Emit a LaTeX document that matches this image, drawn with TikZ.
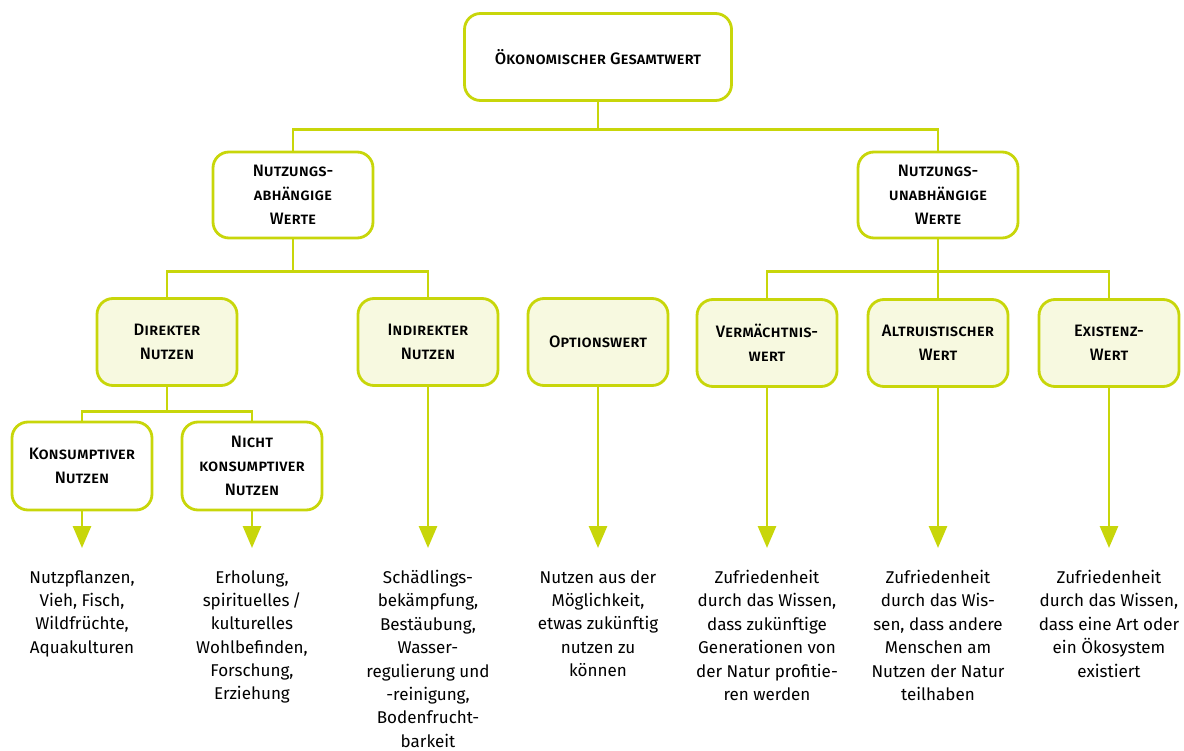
\documentclass[tikz,border=0pt]{standalone}
\usepackage{fontspec}
\setmainfont{Fira Sans}[BoldFont={Fira Sans Medium}]
\usetikzlibrary{arrows.meta}
\definecolor{wertgruen}{RGB}{200,214,10}
\definecolor{wertfill}{RGB}{247,249,224}

\tikzset{
  wert/.style={draw=wertgruen, line width=1.6pt, rounded corners=0.32cm, align=center,
    font=\bfseries\scshape\fontsize{9.4}{13.6}\selectfont},
  topwert/.style={wert, fill=white, minimum width=5.34cm, minimum height=1.74cm},
  gruppe/.style={wert, fill=white, minimum width=3.2cm, minimum height=1.72cm},
  art/.style={wert, fill=wertfill, minimum width=2.8cm, minimum height=1.74cm},
  unterart/.style={wert, fill=white, minimum width=2.8cm, minimum height=1.76cm},
  beispiel/.style={align=center, anchor=north, font=\fontsize{9.7}{13.3}\selectfont},
  pfeil/.style={draw=wertgruen, line width=1.6pt, shorten >=0.30cm,
    -{Triangle[length=0.44cm,width=0.36cm]}}
}

\begin{document}
\begin{tikzpicture}[line width=1.6pt]
\useasboundingbox (0,0) rectangle (23.68,-15.02);

   \node[topwert] (gesamt) at (11.96,-1.14) {Ökonomischer Gesamtwert};
   \node[gruppe] (nutzab) at (5.86,-3.90) {Nutzungs-\\abhängige\\Werte};
   \node[gruppe] (nutzunab) at (18.76,-3.90) {Nutzungs-\\unabhängige\\Werte};

   \node[art] (direkt) at (3.34,-6.84) {Direkter\\Nutzen};
   \node[art] (indirekt) at (8.56,-6.84) {Indirekter\\Nutzen};
   \node[art] (option) at (11.96,-6.84) {Optionswert};
   \node[art] (vermacht) at (15.34,-6.86) {Vermächtnis-\\wert};
   \node[art] (altru) at (18.76,-6.86) {Altruistischer\\Wert};
   \node[art] (existenz) at (22.18,-6.86) {Existenz-\\Wert};

   \node[unterart] (konsum) at (1.64,-9.32) {Konsumptiver\\Nutzen};
   \node[unterart] (nichtkonsum) at (5.04,-9.32) {Nicht\\konsumptiver\\Nutzen};

   \begin{scope}[every node/.style={beispiel}]
    \node (konsumT) at (1.64,-11.26) {Nutzpflanzen,\\Vieh, Fisch,\\Wildfrüchte,\\Aquakulturen};
    \node (nichtkonsumT) at (5.04,-11.26) {Erholung,\\spirituelles\,/\\kulturelles\\Wohlbefinden,\\Forschung,\\Erziehung};
    \node (indirektT) at (8.56,-11.26) {Schädlings-\\bekämpfung,\\Bestäubung,\\Wasser-\\regulierung und\\-reinigung,\\Bodenfrucht-\\barkeit};
    \node (optionT) at (11.96,-11.26) {Nutzen aus der\\Möglichkeit,\\etwas zukünftig\\nutzen zu\\können};
    \node (vermachtT) at (15.34,-11.26) {Zufriedenheit\\durch das Wissen,\\dass zukünftige\\Generationen von\\der Natur profitie-\\ren werden};
    \node (altruT) at (18.76,-11.26) {Zufriedenheit\\durch das Wis-\\sen, dass andere\\Menschen am\\Nutzen der Natur\\teilhaben};
    \node (existenzT) at (22.18,-11.26) {Zufriedenheit\\durch das Wissen,\\dass eine Art oder\\ein Ökosystem\\existiert};
   \end{scope}

\draw[wertgruen] (gesamt.south) -- ++(0,-0.55) -| (nutzab.north);
\draw[wertgruen] (gesamt.south) -- ++(0,-0.55) -| (nutzunab.north);
\draw[wertgruen] (nutzab.south) -- ++(0,-0.64) -| (direkt.north);
\draw[wertgruen] (nutzab.south) -- ++(0,-0.64) -| (indirekt.north);
\draw[wertgruen] (nutzunab.south) -- ++(0,-0.64) -| (vermacht.north);
\draw[wertgruen] (nutzunab.south) -- ++(0,-0.64) -| (altru.north);
\draw[wertgruen] (nutzunab.south) -- ++(0,-0.64) -| (existenz.north);
\draw[wertgruen] (direkt.south) -- ++(0,-0.49) -| (konsum.north);
\draw[wertgruen] (direkt.south) -- ++(0,-0.49) -| (nichtkonsum.north);

\draw[pfeil] (konsum) -- (konsumT);
\draw[pfeil] (nichtkonsum) -- (nichtkonsumT);
\draw[pfeil] (indirekt) -- (indirektT);
\draw[pfeil] (option) -- (optionT);
\draw[pfeil] (vermacht) -- (vermachtT);
\draw[pfeil] (altru) -- (altruT);
\draw[pfeil] (existenz) -- (existenzT);
\end{tikzpicture}
\end{document}
